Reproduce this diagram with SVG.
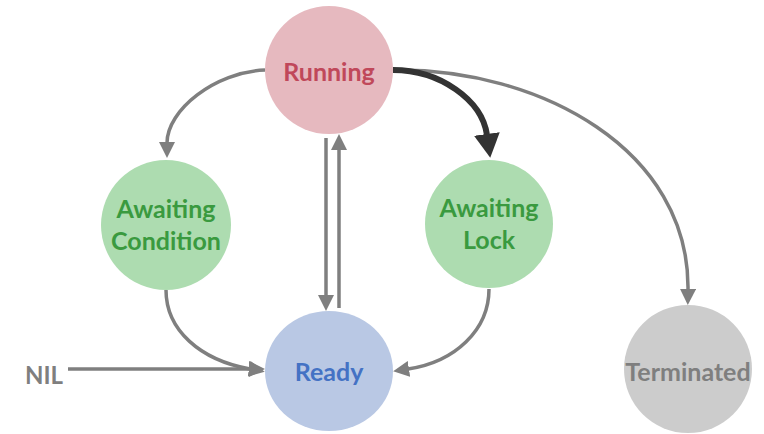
<svg xmlns="http://www.w3.org/2000/svg" width="764" height="434" viewBox="0 0 764 434">
<defs>
<style>
.lbl{font-family:Lato,"Open Sans","Liberation Sans",sans-serif;font-weight:bold;font-size:25px;text-anchor:middle}
.c{fill:none;stroke:#7f7f7f;stroke-width:3.5}
.thick{fill:none;stroke:#333333;stroke-width:6}
</style>
<marker id="ag" markerUnits="userSpaceOnUse" markerWidth="16" markerHeight="16" refX="1" refY="8" orient="auto" viewBox="0 0 16 16">
<path d="M0,0 L16,8 L0,16 z" fill="#7f7f7f"/>
</marker>
<marker id="ak" markerUnits="userSpaceOnUse" markerWidth="24" markerHeight="26" refX="1" refY="13" orient="auto" viewBox="0 0 24 26">
<path d="M0,0 L24,13 L0,26 z" fill="#333333"/>
</marker>
</defs>
<rect width="764" height="434" fill="#ffffff"/>
<g id="connectors">
<path class="c" d="M265,70 C215,72 167,110 167,143" marker-end="url(#ag)"/>
<path class="c" d="M393,70 C540,68 690,150 688,290" marker-end="url(#ag)"/>
<path class="c" d="M326,138 L326,296" marker-end="url(#ag)"/>
<path class="c" d="M339,308 L339,149" marker-end="url(#ag)"/>
<path class="c" d="M166,290 C166,330 200,360 250,369" marker-end="url(#ag)"/>
<path class="c" d="M68,369 L250,369" marker-end="url(#ag)"/>
<path class="c" d="M489,289 C489,330 455,362 408,369" marker-end="url(#ag)"/>
<path class="thick" d="M393,70 C440,70 482,100 487,135" marker-end="url(#ak)"/>
</g>
<g id="running">
<circle cx="329" cy="70" r="64" fill="#e6b9bf"/>
<text class="lbl" x="329" y="81" fill="#c0485a">Running</text>
</g>
<g id="awaiting-condition">
<circle cx="166" cy="225" r="65" fill="#addcb0"/>
<text class="lbl" x="166" y="218" fill="#3a9a3f">Awaiting</text>
<text class="lbl" x="166" y="250" fill="#3a9a3f">Condition</text>
</g>
<g id="awaiting-lock">
<circle cx="489" cy="224" r="64" fill="#addcb0"/>
<text class="lbl" x="489" y="217" fill="#3a9a3f">Awaiting</text>
<text class="lbl" x="489" y="249" fill="#3a9a3f">Lock</text>
</g>
<g id="ready">
<ellipse cx="329" cy="371" rx="64" ry="60" fill="#b9c8e4"/>
<text class="lbl" x="329" y="381" fill="#4472c4">Ready</text>
</g>
<g id="terminated">
<circle cx="688" cy="369" r="64" fill="#cccccc"/>
<text class="lbl" x="688" y="381" fill="#7f7f7f">Terminated</text>
</g>
<g id="nil">
<text class="lbl" x="44" y="384" fill="#7f7f7f" style="font-size:24px">NIL</text>
</g>
</svg>
